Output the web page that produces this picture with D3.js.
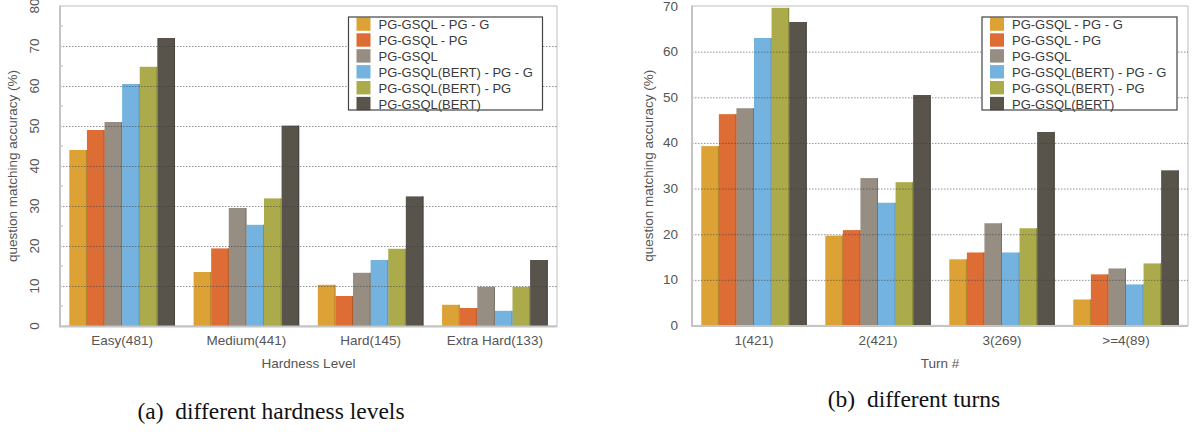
<!DOCTYPE html>
<html><head><meta charset="utf-8">
<script src="https://cdn.jsdelivr.net/npm/d3@7"></script>
<style>
html,body{margin:0;padding:0;background:#fff;}
svg{display:block;}
</style></head>
<body>
<svg id="c" width="1192" height="432"></svg>
<script>
// ---- data ----
const seriesNames = ["PG-GSQL - PG - G","PG-GSQL - PG","PG-GSQL","PG-GSQL(BERT) - PG - G","PG-GSQL(BERT) - PG","PG-GSQL(BERT)"];
const seriesColors = ["#dca236","#dd6c35","#968d83","#74b3e0","#abab4c","#58544c"];

const hardnessCategories = ["Easy(481)","Medium(441)","Hard(145)","Extra Hard(133)"];
const hardnessS1 = [44.0, 13.5, 10.3, 5.3];
const hardnessS2 = [49.0, 19.4, 7.5, 4.5];
const hardnessS3 = [51.0, 29.5, 13.3, 9.8];
const hardnessS4 = [60.5, 25.3, 16.5, 3.8];
const hardnessS5 = [64.8, 31.9, 19.3, 9.8];
const hardnessS6 = [72.0, 50.1, 32.4, 16.5];
const hardnessTicks = [0,10,20,30,40,50,60,70,80];
const hardnessMinor = [5,15,25,35,45,55,65,75];

const turnCategories = ["1(421)","2(421)","3(269)",">=4(89)"];
const turnS1 = [39.3, 19.7, 14.5, 5.7];
const turnS2 = [46.3, 20.9, 16.0, 11.2];
const turnS3 = [47.6, 32.3, 22.4, 12.5];
const turnS4 = [63.0, 26.9, 16.0, 9.0];
const turnS5 = [69.6, 31.4, 21.3, 13.6];
const turnS6 = [66.5, 50.5, 42.4, 34.0];
const turnTicks = [0,10,20,30,40,50,60,70];

const svg = d3.select("#c");
const FONT = "'Liberation Sans', Arial, Helvetica, sans-serif";

function drawChart(cfg){
  const g = svg.append("g");
  const x0 = d3.scaleBand().domain(cfg.categories).range([cfg.left, cfg.right]).paddingInner(0.15).paddingOuter(0.075);
  const x1 = d3.scaleBand().domain(d3.range(seriesNames.length)).range([0, x0.bandwidth()]);
  const y = d3.scaleLinear().domain([0, cfg.ymax]).range([cfg.bottom, cfg.top]);

  // frame
  g.append("rect").attr("x", cfg.left).attr("y", y(cfg.ymax)).attr("width", cfg.right-cfg.left).attr("height", y(0)-y(cfg.ymax))
    .attr("fill","none").attr("stroke","#c9c9c9").attr("stroke-width",1.2);

  // bars
  const rows = cfg.categories.map((c,i)=>({cat:c, vals: cfg.series.map(s=>s[i])}));
  const grp = g.selectAll("g.grp").data(rows).join("g").attr("transform", d=>`translate(${x0(d.cat)},0)`);
  grp.selectAll("rect").data(d=>d.vals.map((v,k)=>({v,k}))).join("rect")
    .attr("x", d=>x1(d.k)).attr("width", x1.bandwidth())
    .attr("y", d=>y(d.v)).attr("height", d=>y(0)-y(d.v))
    .attr("fill", d=>seriesColors[d.k]);
  // darker right edges
  grp.selectAll("line.edge").data(d=>d.vals.map((v,k)=>({v,k}))).join("line")
    .attr("x1", d=>x1(d.k)+x1.bandwidth()-0.5).attr("x2", d=>x1(d.k)+x1.bandwidth()-0.5)
    .attr("y1", d=>y(d.v)).attr("y2", y(0))
    .attr("stroke", d=>d3.color(seriesColors[d.k]).darker(0.6)).attr("stroke-width",1);

  // gridlines (drawn over bars)
  g.selectAll("line.grid").data(cfg.ticks.filter(t=>t>0 && t<cfg.ymax)).join("line")
    .attr("x1", cfg.left).attr("x2", cfg.right).attr("y1", d=>y(d)+0.5).attr("y2", d=>y(d)+0.5)
    .attr("stroke","rgba(60,60,60,0.55)").attr("stroke-width",1).attr("stroke-dasharray","1.5,1.5");

  // minor ticks
  if (cfg.minor){
    g.selectAll("line.minor").data(cfg.minor).join("line")
      .attr("x1", cfg.left).attr("x2", cfg.left+3).attr("y1", d=>y(d)).attr("y2", d=>y(d))
      .attr("stroke","#bbb").attr("stroke-width",1);
  }

  // axes lines
  g.append("line").attr("x1", cfg.left).attr("x2", cfg.left).attr("y1", y(cfg.ymax)).attr("y2", y(0))
    .attr("stroke","#c4c4c4").attr("stroke-width",2);
  g.append("line").attr("x1", cfg.left-1).attr("x2", cfg.right).attr("y1", y(0)+0.5).attr("y2", y(0)+0.5)
    .attr("stroke","#c4c4c4").attr("stroke-width",2);

  // y tick labels
  const yl = g.selectAll("text.yt").data(cfg.ticks).join("text")
    .attr("font-family", FONT).attr("font-size", 13.5).attr("fill","#555");
  if (cfg.rotateY){
    yl.attr("x", cfg.yLabelX).attr("y", d=>y(d)).attr("text-anchor","middle").attr("dominant-baseline","central")
      .attr("transform", d=>`rotate(-90,${cfg.yLabelX},${y(d)})`).text(d=>d);
  } else {
    yl.attr("x", cfg.yLabelX).attr("y", d=>y(d)).attr("text-anchor","end").attr("dominant-baseline","central").text(d=>d);
  }

  // x tick labels
  g.selectAll("text.xt").data(cfg.categories).join("text")
    .attr("x", d=>x0(d)+x0.bandwidth()/2).attr("y", 345)
    .attr("text-anchor","middle").attr("font-family", FONT).attr("font-size", 13.5).attr("fill","#555").text(d=>d);

  // axis titles
  g.append("text").attr("x",(cfg.left+cfg.right)/2).attr("y",367.5).attr("text-anchor","middle")
    .attr("font-family",FONT).attr("font-size",13.5).attr("fill","#555").text(cfg.xTitle);
  const ty = (cfg.top+cfg.bottom)/2;
  g.append("text").attr("x",cfg.yTitleX).attr("y",ty).attr("text-anchor","middle").attr("dominant-baseline","central")
    .attr("transform",`rotate(-90,${cfg.yTitleX},${ty})`)
    .attr("font-family",FONT).attr("font-size",13.5).attr("fill","#555").text("question matching accuracy (%)");

  // legend
  const L = g.append("g").attr("transform",`translate(${cfg.legendX},17)`);
  L.append("rect").attr("x",0).attr("y",0).attr("width",cfg.legendW).attr("height",93).attr("fill","#fff");
  const items = L.selectAll("g.li").data(seriesNames).join("g").attr("transform",(d,i)=>`translate(0,${i*15.9})`);
  items.append("rect").attr("x",8).attr("y",0.4).attr("width",14).attr("height",13.4).attr("fill",(d,i)=>seriesColors[i]);
  items.append("text").attr("x",30).attr("y",12).attr("font-family",FONT).attr("font-size",13).attr("fill","#3a3a3a").text(d=>d);
  L.append("rect").attr("x",0).attr("y",0).attr("width",cfg.legendW).attr("height",93).attr("fill","none")
    .attr("stroke","#444").attr("stroke-width",1.2);

  // caption
  svg.append("text").attr("x",cfg.capX).attr("y",cfg.capY).attr("text-anchor","middle")
    .attr("font-family","'Liberation Serif','Times New Roman',serif").attr("font-size",23.5).attr("fill","#111")
    .attr("xml:space","preserve").text(cfg.caption);
}

drawChart({
  categories: hardnessCategories,
  series: [hardnessS1,hardnessS2,hardnessS3,hardnessS4,hardnessS5,hardnessS6],
  ticks: hardnessTicks, minor: hardnessMinor, ymax: 80,
  left: 60, right: 557, top: 6, bottom: 326,
  rotateY: true, yLabelX: 34, yTitleX: 12,
  xTitle: "Hardness Level",
  legendX: 348.5, legendW: 194,
  caption: "(a)  different hardness levels", capX: 271, capY: 419
});

drawChart({
  categories: turnCategories,
  series: [turnS1,turnS2,turnS3,turnS4,turnS5,turnS6],
  ticks: turnTicks, minor: null, ymax: 70,
  left: 692, right: 1188, top: 6, bottom: 325.5,
  rotateY: false, yLabelX: 678, yTitleX: 648,
  xTitle: "Turn #",
  legendX: 982, legendW: 195,
  caption: "(b)  different turns", capX: 914, capY: 407
});
</script>
</body></html>
